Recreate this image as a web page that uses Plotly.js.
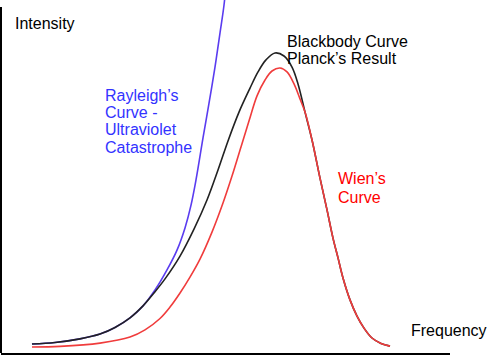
<!DOCTYPE html>
<html>
<head>
<meta charset="utf-8">
<script src="https://cdn.plot.ly/plotly-3.0.1.min.js"></script>
<style>html,body{margin:0;padding:0;background:#fff;}#chart{width:487px;height:355px;}</style>
</head>
<body>
<div id="chart"></div>
<script>
// Frequency (arbitrary units) and intensity (arbitrary units)
const rayleighFreq = [0.690, 1.203, 1.759, 2.205, 2.539, 2.873, 3.163, 3.430, 3.697, 3.920, 4.098, 4.232, 4.343, 4.499, 4.633, 4.766, 4.878, 4.967, 5.011];
const rayleighInt  = [0.030, 0.035, 0.047, 0.063, 0.085, 0.117, 0.157, 0.210, 0.277, 0.343, 0.417, 0.493, 0.577, 0.717, 0.833, 0.953, 1.067, 1.160, 1.227];

const planckFreq = [0.690, 1.203, 1.759, 2.205, 2.539, 2.873, 3.163, 3.408, 3.653, 3.987, 4.298, 4.588, 4.833, 5.056, 5.301, 5.546, 5.724, 5.902, 6.102, 6.303, 6.481, 6.615, 6.771, 6.927, 7.105, 7.261, 7.394, 7.506, 7.617, 7.773, 7.929, 8.085, 8.263, 8.463, 8.664];
const planckInt  = [0.030, 0.035, 0.047, 0.063, 0.085, 0.117, 0.157, 0.200, 0.247, 0.323, 0.413, 0.510, 0.610, 0.707, 0.803, 0.883, 0.937, 0.977, 1.000, 0.990, 0.953, 0.897, 0.803, 0.710, 0.583, 0.477, 0.383, 0.317, 0.250, 0.177, 0.123, 0.083, 0.050, 0.032, 0.023];

const wienFreq = [0.690, 1.314, 2.205, 2.873, 3.207, 3.541, 3.764, 3.987, 4.209, 4.432, 4.699, 4.944, 5.145, 5.345, 5.523, 5.702, 5.880, 6.036, 6.214, 6.370, 6.526, 6.659, 6.771, 6.927, 7.105, 7.261, 7.394, 7.506, 7.617, 7.773, 7.929, 8.085, 8.263, 8.463, 8.664];
const wienInt  = [0.020, 0.022, 0.033, 0.053, 0.077, 0.115, 0.153, 0.200, 0.253, 0.313, 0.403, 0.500, 0.590, 0.687, 0.773, 0.857, 0.910, 0.940, 0.950, 0.937, 0.897, 0.847, 0.803, 0.710, 0.583, 0.477, 0.383, 0.317, 0.250, 0.177, 0.123, 0.083, 0.050, 0.032, 0.023];

const labels = {
  yTitle: "Intensity",
  xTitle: "Frequency",
  planck: ["Blackbody Curve", "Planck\u2019s Result"],
  rayleigh: ["Rayleigh\u2019s", "Curve -", "Ultraviolet", "Catastrophe"],
  wien: ["Wien\u2019s", "Curve"]
};

const FONT = "Liberation Sans, Arial, Helvetica, sans-serif";

const traces = [
  {x: rayleighFreq, y: rayleighInt, mode: "lines", line: {color: "#5a3cf0", width: 1.6, shape: "spline", smoothing: 1}, hoverinfo: "skip"},
  {x: planckFreq, y: planckInt, mode: "lines", line: {color: "#222222", width: 1.6, shape: "spline", smoothing: 1}, hoverinfo: "skip"},
  {x: wienFreq, y: wienInt, mode: "lines", line: {color: "#f03c3c", width: 1.6, shape: "spline", smoothing: 1}, hoverinfo: "skip"}
];

function ann(text, x, y, color) {
  return {text: text, x: x, y: y, xref: "x", yref: "y", xanchor: "left", yanchor: "middle",
          showarrow: false, font: {family: FONT, size: 16, color: color}};
}

const annotations = [
  ann(labels.yTitle, 0.27, 1.097, "#000000"),
  ann(labels.xTitle, 9.08, 0.074, "#000000"),
  ann(labels.planck[0], 6.33, 1.037, "#000000"),
  ann(labels.planck[1], 6.33, 0.983, "#000000")
];
labels.rayleigh.forEach((t, i) => annotations.push(ann(t, 2.28, 0.860 - i * 0.0583, "#3333ff")));
labels.wien.forEach((t, i) => annotations.push(ann(t, 7.46, 0.582 - i * 0.062, "#ff0000")));

const layout = {
  width: 487, height: 355,
  margin: {l: 1, r: 37, t: 0, b: 2, pad: 0},
  paper_bgcolor: "#ffffff", plot_bgcolor: "#ffffff",
  showlegend: false,
  xaxis: {range: [0, 10], showline: true, linecolor: "#000000", linewidth: 2, showgrid: false, zeroline: false, showticklabels: false, ticks: ""},
  yaxis: {range: [0, 1.1767], showline: false, showgrid: false, zeroline: false, showticklabels: false, ticks: ""},
  shapes: [{type: "line", xref: "paper", yref: "paper", x0: 0, x1: 0, y0: 0, y1: 0.98, line: {color: "#000000", width: 2}}],
  annotations: annotations
};

Plotly.newPlot("chart", traces, layout, {displayModeBar: false, staticPlot: true});
</script>
</body>
</html>
